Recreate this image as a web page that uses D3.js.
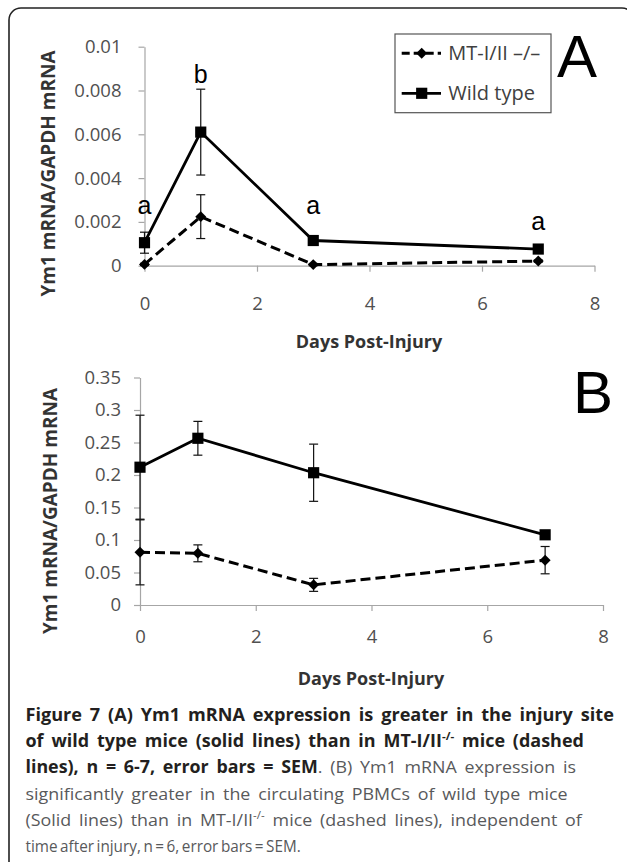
<!DOCTYPE html>
<html><head><meta charset="utf-8">
<script src="https://cdn.jsdelivr.net/npm/d3@7"></script>
<style>body{margin:0;background:#fff} svg{display:block}</style>
</head><body>
<svg id="c" width="627" height="862"></svg>
<script>
// ---------- data ----------
const days = [0, 1, 3, 7];
const seriesNames = ["MT-I/II \u2013/\u2013", "Wild type"];
// Panel A (injury site)
const aMT    = [0.00006, 0.00224, 0.00005, 0.00021];
const aMTerr = [0.00005, 0.00100, 0.00005, 0.00005];
const aWT    = [0.00105, 0.00610, 0.00115, 0.00076];
const aWTerr = [0.00048, 0.00196, 0.00010, 0.00010];
const aLetters = ["a", "b", "a", "a"];
const aLetterY = [0.00235, 0.00836, 0.00235, 0.00163];
const aYTicks = [0, 0.002, 0.004, 0.006, 0.008, 0.01];
const aYTickLabels = ["0", "0.002", "0.004", "0.006", "0.008", "0.01"];
// Panel B (PBMCs)
const bMT    = [0.081, 0.0795, 0.031, 0.069];
const bMTerr = [0.050, 0.0130, 0.010, 0.021];
const bWT    = [0.212, 0.2565, 0.2035, 0.108];
const bWTerr = [0.080, 0.0260, 0.0440, 0.002];
const bYTicks = [0, 0.05, 0.1, 0.15, 0.2, 0.25, 0.3, 0.35];
const bYTickLabels = ["0", "0.05", "0.1", "0.15", "0.2", "0.25", "0.3", "0.35"];
const xTicks = [0, 2, 4, 6, 8];
const xTickLabels = ["0", "2", "4", "6", "8"];
const xTitle = "Days Post-Injury";
const yTitle = "Ym1 mRNA/GAPDH mRNA";
const panelLetters = ["A", "B"];
const captionLines = [
  [{t: "Figure 7 (A) Ym1 mRNA expression is greater in the injury site", b: true}],
  [{t: "of wild type mice (solid lines) than in MT-I/II", b: true}, {t: "-/-", b: true, sup: true}, {t: " mice (dashed", b: true}],
  [{t: "lines), n = 6-7, error bars = SEM", b: true}, {t: ". (B) Ym1 mRNA expression is"}],
  [{t: "significantly greater in the circulating PBMCs of wild type mice"}],
  [{t: "(Solid lines) than in MT-I/II"}, {t: "-/-", sup: true}, {t: " mice (dashed lines), independent of"}],
  [{t: "time after injury, n = 6, error bars = SEM."}]
];

// ---------- drawing ----------
const svg = d3.select("#c");
const FONT = "'Open Sans', 'Noto Sans', sans-serif";
const AXIS_COL = "#a6a6a6";

// outer frame
svg.append("rect").attr("x", 9).attr("y", 8).attr("width", 625).attr("height", 900)
  .attr("rx", 12).attr("fill", "none").attr("stroke", "#222").attr("stroke-width", 1.6);

function panel(cfg) {
  const x = d3.scaleLinear().domain([0, 8]).range(cfg.xr);
  const y = d3.scaleLinear().domain([0, cfg.ymax]).range(cfg.yr);
  const g = svg.append("g");

  const ya = g.append("g").attr("transform", `translate(${cfg.xr[0]},0)`)
    .call(d3.axisLeft(y).tickValues(cfg.yTicks).tickFormat((d, i) => cfg.yLabels[i])
      .tickSize(6).tickSizeOuter(0).tickPadding(cfg.yPad));
  const xa = g.append("g").attr("transform", `translate(0,${cfg.yr[0]})`)
    .call(d3.axisBottom(x).tickValues(xTicks).tickFormat((d, i) => xTickLabels[i])
      .tickSize(6).tickSizeOuter(0));
  [ya, xa].forEach(a => {
    a.select(".domain").attr("stroke", AXIS_COL).attr("stroke-width", 1.2);
    a.selectAll(".tick line").attr("stroke", AXIS_COL).attr("stroke-width", 1.2);
    a.selectAll("text").attr("fill", "#505050").style("font-family", FONT).style("font-size", "18.5px");
  });
  xa.selectAll("text").attr("y", cfg.xLabY).attr("dy", 0);

  // axis titles
  g.append("text").attr("x", cfg.xTitlePos[0]).attr("y", cfg.xTitlePos[1])
    .attr("text-anchor", "middle").style("font-family", FONT).style("font-size", "18px")
    .style("font-weight", "bold").attr("fill", "#333").text(xTitle);
  g.append("text").attr("transform", `translate(${cfg.yTitlePos[0]},${cfg.yTitlePos[1]}) rotate(-90)`)
    .attr("text-anchor", "middle").style("font-family", FONT).style("font-size", "19px")
    .style("font-weight", "bold").attr("fill", "#333").text(yTitle);

  const line = d3.line().x((d, i) => x(days[i])).y(d => y(d));
  // error bars
  function errBars(vals, errs) {
    days.forEach((dd, i) => {
      const cx = x(dd), y1 = y(vals[i] + errs[i]), y2 = y(Math.max(0, vals[i] - errs[i]));
      g.append("line").attr("x1", cx).attr("x2", cx).attr("y1", y1).attr("y2", y2)
        .attr("stroke", "#111").attr("stroke-width", 1.2);
      [y1, y2].forEach(yy => g.append("line").attr("x1", cx - 4.5).attr("x2", cx + 4.5)
        .attr("y1", yy).attr("y2", yy).attr("stroke", "#111").attr("stroke-width", 1.2));
    });
  }
  errBars(cfg.mt, cfg.mtErr);
  errBars(cfg.wt, cfg.wtErr);

  g.append("path").datum(cfg.mt).attr("d", line).attr("fill", "none")
    .attr("stroke", "#000").attr("stroke-width", 3).attr("stroke-dasharray", "10,5");
  g.append("path").datum(cfg.wt).attr("d", line).attr("fill", "none")
    .attr("stroke", "#000").attr("stroke-width", 2.8);

  const diamond = d3.symbol(d3.symbolSquare, 60);
  const square = d3.symbol(d3.symbolSquare, 125);
  g.selectAll(".mt").data(cfg.mt).join("path")
    .attr("transform", (d, i) => `translate(${x(days[i])},${y(d)}) rotate(45)`)
    .attr("d", diamond).attr("fill", "#000");
  g.selectAll(".wt").data(cfg.wt).join("path")
    .attr("transform", (d, i) => `translate(${x(days[i])},${y(d)})`)
    .attr("d", square).attr("fill", "#000");

  // panel letter
  g.append("text").attr("x", cfg.letterPos[0]).attr("y", cfg.letterPos[1])
    .style("font-family", "'Liberation Sans', Arial, sans-serif").style("font-size", "60px")
    .attr("fill", "#000").text(cfg.letter);

  if (cfg.annot) {
    cfg.annot.forEach((t, i) => {
      g.append("text").attr("x", x(days[i])).attr("y", y(cfg.annotY[i]))
        .attr("text-anchor", "middle")
        .style("font-family", "'Liberation Sans', Arial, sans-serif").style("font-size", "25px")
        .attr("fill", "#000").text(t);
    });
  }
  return g;
}

panel({
  xr: [144.5, 594.5], yr: [265.7, 46.7], ymax: 0.01,
  yTicks: aYTicks, yLabels: aYTickLabels, yPad: 17, xLabY: 44,
  xTitlePos: [369, 348], yTitlePos: [55, 173.5],
  mt: aMT, mtErr: aMTerr, wt: aWT, wtErr: aWTerr,
  letter: panelLetters[0], letterPos: [557, 76.7],
  annot: aLetters, annotY: aLetterY
});
panel({
  xr: [140, 603], yr: [605, 377.5], ymax: 0.35,
  yTicks: bYTicks, yLabels: bYTickLabels, yPad: 13, xLabY: 38,
  xTitlePos: [371, 685], yTitlePos: [57, 511],
  mt: bMT, mtErr: bMTerr, wt: bWT, wtErr: bWTerr,
  letter: panelLetters[1], letterPos: [573, 413.3]
});

// legend
const lg = svg.append("g");
lg.append("rect").attr("x", 395).attr("y", 34).attr("width", 156).attr("height", 78.7)
  .attr("fill", "#fff").attr("stroke", "#555").attr("stroke-width", 1.2);
[53.3, 93.3].forEach((yy, i) => {
  lg.append("line").attr("x1", 401.7).attr("x2", 441).attr("y1", yy).attr("y2", yy)
    .attr("stroke", "#000").attr("stroke-width", i === 0 ? 3 : 2.8)
    .attr("stroke-dasharray", i === 0 ? "8,4" : null);
  lg.append("path").attr("transform", `translate(421.7,${yy})` + (i === 0 ? " rotate(45)" : ""))
    .attr("d", d3.symbol(d3.symbolSquare, i === 0 ? 60 : 125)()).attr("fill", "#000");
  lg.append("text").attr("x", 448.3).attr("y", yy + 7).style("font-family", FONT)
    .style("font-size", "20px").attr("fill", "#404040").text(seriesNames[i]);
});

// caption: common horizontal scale, word spacing absorbs the per-line differences
const capRight = [614.3, 584.3, 576.7, 567.7, 583.3, 301];
const capBase = [720.7, 747, 773.3, 799.6, 826, 852.3];
const capLeft = 25.5;
const capScale = 0.9;
captionLines.forEach((parts, li) => {
  const t = svg.append("text").attr("x", 0).attr("y", 0)
    .style("font-family", FONT).style("font-size", "17px");
  parts.forEach((p, pi) => {
    const ts = t.append("tspan").text(p.t)
      .style("font-weight", p.b ? "bold" : "normal")
      .attr("fill", p.b ? "#231f20" : "#58595b");
    if (p.sup) ts.attr("dy", -7).style("font-size", "11px");
    else if (pi > 0 && parts[pi - 1].sup) ts.attr("dy", 7);
  });
  const target = capRight[li] - capLeft;
  const w0 = t.node().getBBox().width;
  const nSp = parts.map(p => p.t).join("").split(" ").length - 1;
  let ws = (target / capScale - w0) / nSp;
  ws = Math.max(-2.5, Math.min(3, ws));
  t.style("word-spacing", ws + "px");
  const bb = t.node().getBBox();
  const sx = target / bb.width;
  t.attr("transform", `translate(${capLeft - bb.x * sx},${capBase[li]}) scale(${sx},1)`);
});
</script>
</body></html>
